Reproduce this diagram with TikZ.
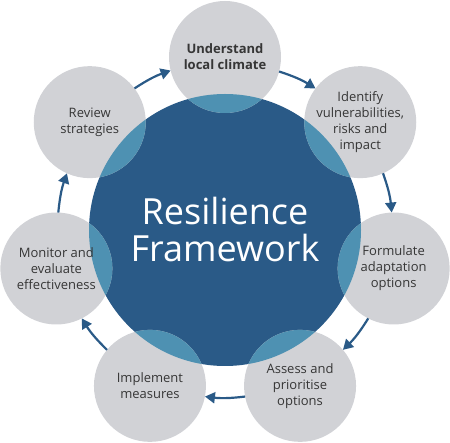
\documentclass[tikz,border=0pt]{standalone}
\usepackage{fontspec}
\setmainfont{Open Sans}
\usetikzlibrary{arrows.meta}
\definecolor{bigblue}{HTML}{2A5A87}
\definecolor{lightblue}{HTML}{4E91B2}
\definecolor{stepgray}{HTML}{D1D2D6}
\definecolor{txt}{HTML}{363636}
\pgfdeclarelayer{background}
\pgfsetlayers{background,main}
\begin{document}
\begin{tikzpicture}[x=1pt,y=1pt,
  stepcircle/.style={circle, minimum size=112pt, inner sep=0pt, outer sep=0pt,
    text=txt, font=\fontsize{13}{16}\selectfont, align=center},
  corecircle/.style={circle, minimum size=272pt, inner sep=0pt, outer sep=0pt,
    text=white, font=\fontsize{36}{37}\selectfont, align=center},
  flow/.style={draw=bigblue, line width=2.2pt,
    -{Triangle[length=10pt,width=11pt]}, bend left=6.9}]
\useasboundingbox (0,0) rectangle (450,442);
\coordinate (C) at (225,212);
\node[corecircle] (core) at (C) {Resilience\\Framework};
\node[stepcircle] (s0) at ([shift={(C)}]90:173) {\bfseries Understand\\\bfseries local climate};
\node[stepcircle] (s1) at ([shift={(C)}]38.57:173) {Identify\\vulnerabilities,\\risks and\\impact};
\node[stepcircle] (s2) at ([shift={(C)}]-12.86:173) {Formulate\\adaptation\\options};
\node[stepcircle] (s3) at ([shift={(C)}]-64.29:173) {Assess and\\prioritise\\options};
\node[stepcircle] (s4) at ([shift={(C)}]-115.71:173) {Implement\\measures};
\node[stepcircle] (s5) at ([shift={(C)}]-167.14:173) {Monitor and\\evaluate\\effectiveness};
\node[stepcircle] (s6) at ([shift={(C)}]141.43:173) {Review\\strategies};
\begin{pgfonlayer}{background}
  \fill[bigblue] (core.center) circle (136pt);
  \foreach \n in {s0,s1,s2,s3,s4,s5,s6}
    \fill[stepgray] (\n.center) circle (56pt);
  \begin{scope}
    \clip (core.center) circle (136pt);
    \foreach \n in {s0,s1,s2,s3,s4,s5,s6}
      \fill[lightblue] (\n.center) circle (56pt);
  \end{scope}
\end{pgfonlayer}
\draw[flow] (s6.37) to (s0.194);
\draw[flow] (s0.345) to (s1.143);
\draw[flow] (s1.294) to (s2.92);
\draw[flow] (s2.243) to (s3.40);
\draw[flow] (s3.191) to (s4.349);
\draw[flow] (s4.140) to (s5.297);
\draw[flow] (s5.88) to (s6.246);
\end{tikzpicture}
\end{document}
